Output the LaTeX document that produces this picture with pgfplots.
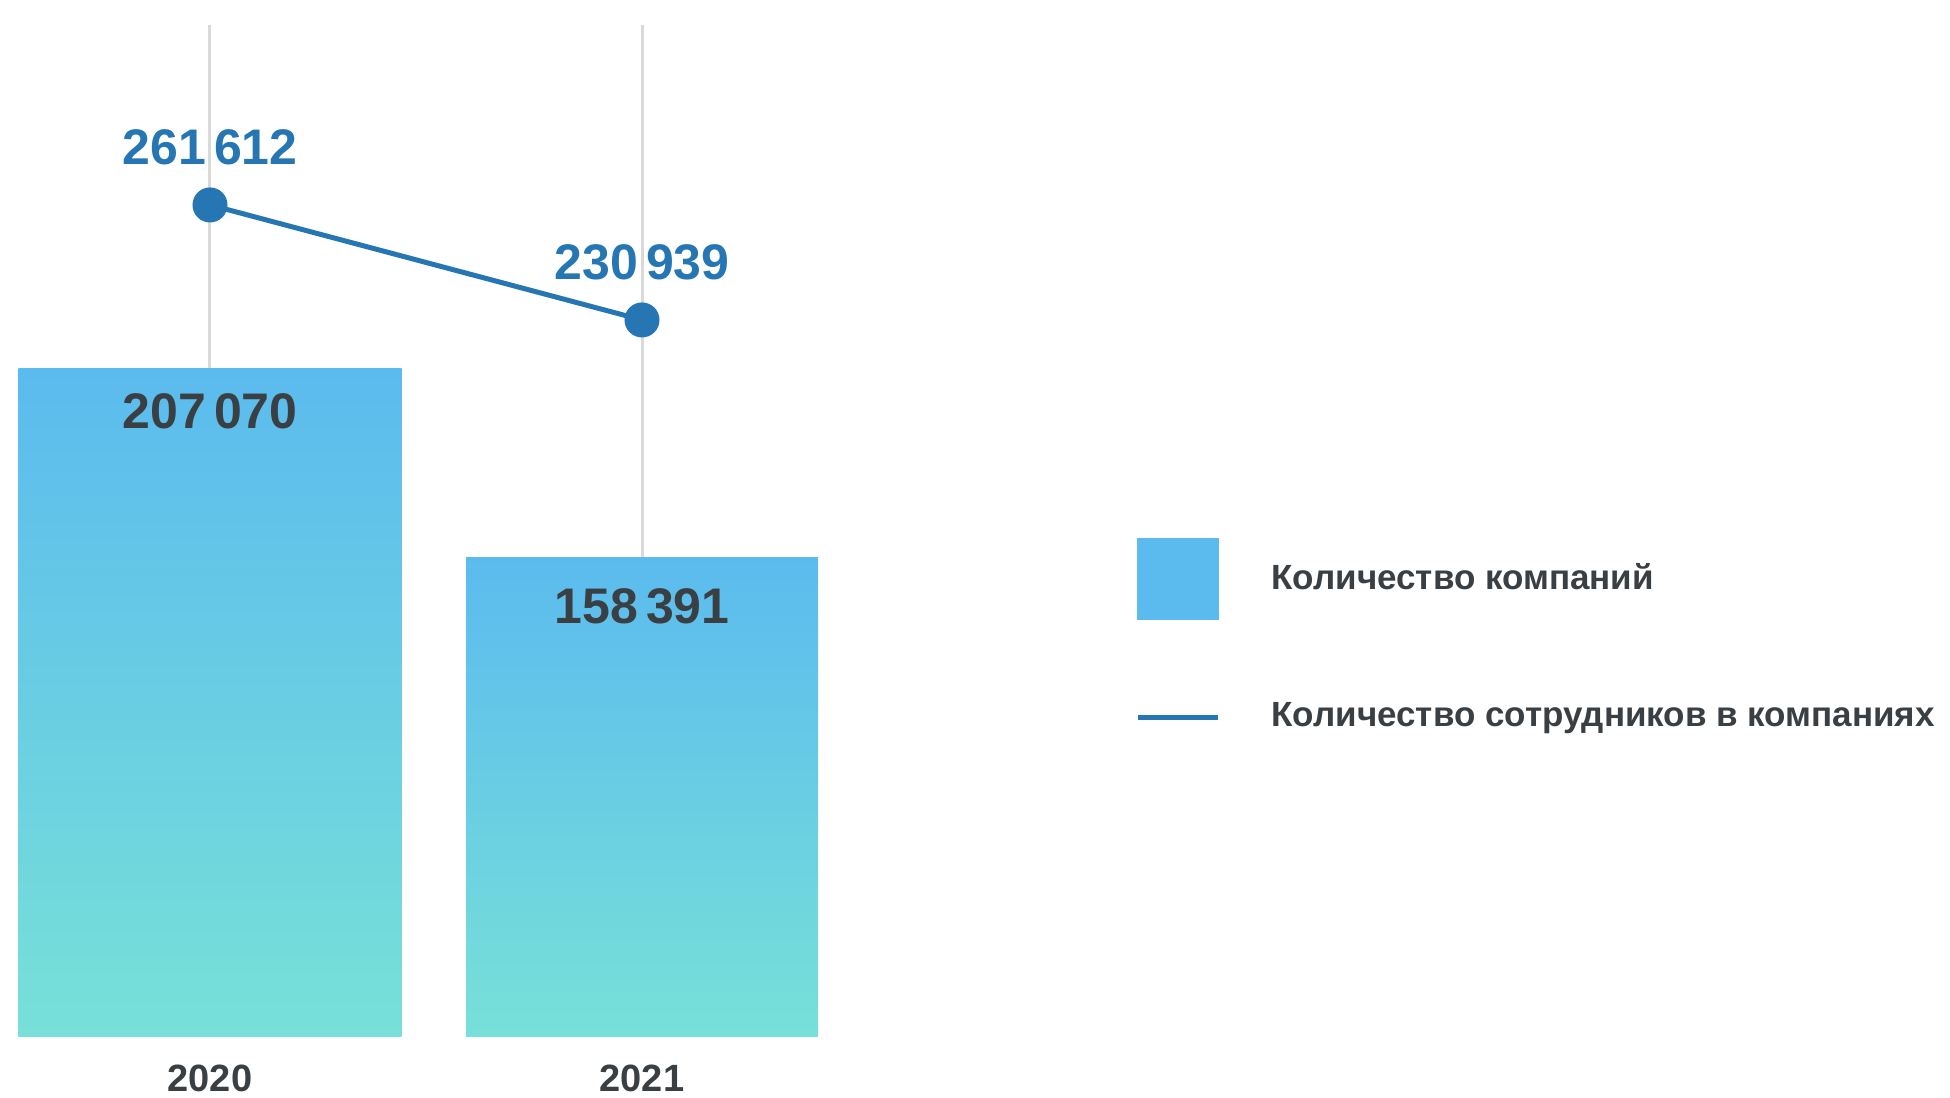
\documentclass[border=0pt]{standalone}
\usepackage{fontspec}
\setmainfont{Liberation Sans}
\usepackage{pgfplots}
\pgfplotsset{compat=1.18}

\definecolor{lineblue}{RGB}{38,118,180}
\definecolor{bartop}{RGB}{91,187,238}
\definecolor{barbot}{RGB}{120,224,216}
\definecolor{vgrid}{RGB}{217,217,217}
\definecolor{txtdark}{RGB}{58,63,68}

\tikzset{
  numlabel/.style={font=\bfseries\fontsize{15}{18}\selectfont, anchor=base},
}
\pgfplotsset{
  base/.style={
    scale only axis, width=585pt, height=310.8pt,
    at={(0pt,18.3pt)}, anchor=south west,
    xmin=-0.4861, xmax=4.0278,
    axis line style={draw=none},
    tick style={draw=none},
    ytick=\empty,
  },
}

\begin{document}
\begin{tikzpicture}
\useasboundingbox (0,0) rectangle (585pt,329.1pt);

% bars: companies
\begin{axis}[base,
  ymin=35028, ymax=301860,
  xtick={0,1}, xticklabels={2020,2021},
  xticklabel style={font=\bfseries\fontsize{11.4}{13}\selectfont, text=txtdark, anchor=base, yshift=-16.5pt},
]
\addplot[vgrid, line width=0.9pt] coordinates {(0,207070) (0,295420)};
\addplot[vgrid, line width=0.9pt] coordinates {(1,158391) (1,295420)};
\addplot[ybar, bar width=0.8866, bar shift=0pt, draw=none,
  top color=bartop, bottom color=barbot,
  nodes near coords, point meta=explicit symbolic,
  every node near coord/.append style={numlabel, text=txtdark, yshift=-18pt}]
  coordinates {(0,207070) [207\,070]};
\addplot[ybar, bar width=0.8148, bar shift=0pt, draw=none,
  top color=bartop, bottom color=barbot,
  nodes near coords, point meta=explicit symbolic,
  every node near coord/.append style={numlabel, text=txtdark, yshift=-19.8pt}]
  coordinates {(1,158391) [158\,391]};
\end{axis}

% line: employees
\begin{axis}[base,
  ymin=39955, ymax=316280,
  hide axis,
  legend cell align=left,
  legend style={draw=none, fill=none, at={(0.582,0.387)}, anchor=west,
    inner sep=0pt, row sep=24.9pt, column sep=15.3pt,
    font=\bfseries\fontsize{10.5}{13}\selectfont, text=txtdark,
    nodes={inner sep=0pt}},
]
\addlegendimage{legend image code/.code={\fill[bartop] (0pt,-12pt) rectangle (24pt,12pt);}}
\addlegendentry{Количество компаний}
\addplot[lineblue, line width=1.5pt, mark=*, mark size=4.5pt,
  nodes near coords, point meta=explicit symbolic,
  every node near coord/.append style={numlabel, text=lineblue, yshift=12.2pt},
  legend image code/.code={\draw[lineblue, line width=1.5pt] (0pt,0pt) -- (24pt,0pt);}]
  coordinates {(0,261612) [261\,612] (1,230939) [230\,939]};
\addlegendentry{Количество сотрудников в компаниях}
\end{axis}
\end{tikzpicture}
\end{document}
